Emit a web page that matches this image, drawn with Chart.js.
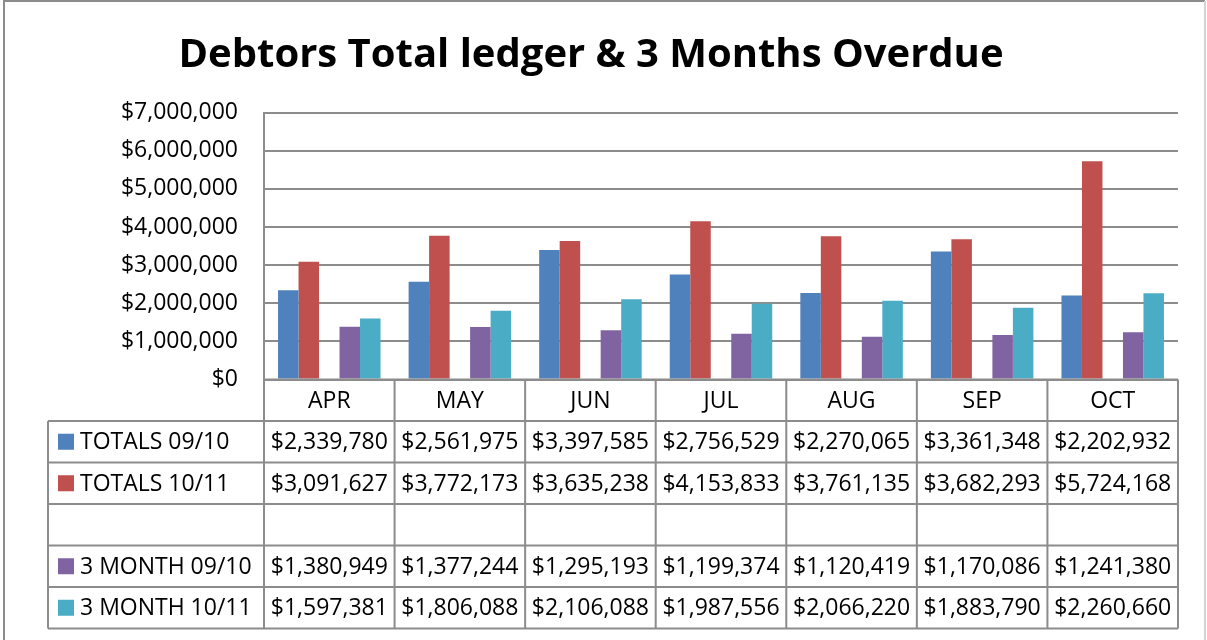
<!DOCTYPE html>
<html>
<head>
<meta charset="utf-8">
<title>Debtors Total ledger &amp; 3 Months Overdue</title>
<script src="https://cdn.jsdelivr.net/npm/chart.js@4/dist/chart.umd.min.js"></script>
<style>
  html, body { margin: 0; padding: 0; background: #fff; }
  #wrap { position: relative; width: 1207px; height: 640px; }
</style>
</head>
<body>
<div id="wrap"><canvas id="debtorsChart" width="1207" height="640"></canvas></div>
<script>
'use strict';

const months = ['APR', 'MAY', 'JUN', 'JUL', 'AUG', 'SEP', 'OCT'];
const totals0910 = [2339780, 2561975, 3397585, 2756529, 2270065, 3361348, 2202932];
const totals1011 = [3091627, 3772173, 3635238, 4153833, 3761135, 3682293, 5724168];
const blankRow = [null, null, null, null, null, null, null];
const month0910 = [1380949, 1377244, 1295193, 1199374, 1120419, 1170086, 1241380];
const month1011 = [1597381, 1806088, 2106088, 1987556, 2066220, 1883790, 2260660];
const yTicks = [0, 1000000, 2000000, 3000000, 4000000, 5000000, 6000000, 7000000];

const seriesLabels = ['TOTALS 09/10', 'TOTALS 10/11', '', '3 MONTH 09/10', '3 MONTH 10/11'];
const seriesColors = ['#4F81BD', '#C0504D', '#ffffff', '#8064A2', '#4BACC6'];
const seriesData = [totals0910, totals1011, blankRow, month0910, month1011];

const FONT = '"Open Sans", "Noto Sans", sans-serif';
const LINE = '#8c8c8c';

function money(v) {
  return '$' + Number(v).toLocaleString('en-US');
}

// frame round the whole chart
const framePlugin = {
  id: 'frame',
  beforeDraw(chart) {
    const ctx = chart.ctx;
    ctx.save();
    ctx.fillStyle = '#fff';
    ctx.fillRect(0, 0, chart.width, chart.height);
    ctx.lineWidth = 2;
    ctx.strokeStyle = LINE;
    ctx.beginPath();
    ctx.moveTo(4, 700);
    ctx.lineTo(4, 1);
    ctx.lineTo(1205, 1);
    ctx.stroke();
    ctx.strokeStyle = '#d4d4d4';
    ctx.beginPath();
    ctx.moveTo(1205, 1);
    ctx.lineTo(1205, 700);
    ctx.stroke();
    ctx.restore();
  }
};

// Excel style data table under the plot
const dataTablePlugin = {
  id: 'dataTable',
  afterDraw(chart) {
    const ctx = chart.ctx;
    const x = chart.scales.x;
    const area = chart.chartArea;
    const n = months.length;
    const colW = (area.right - area.left) / n;
    const keyLeft = 48;
    const headTop = area.bottom;
    const headBottom = 421;
    const rowH = 41.5;
    const tableBottom = headBottom + rowH * seriesLabels.length;

    ctx.save();
    ctx.strokeStyle = LINE;
    ctx.lineWidth = 2;
    ctx.beginPath();
    ctx.moveTo(area.left, headTop);
    ctx.lineTo(area.right, headTop);
    for (let r = 0; r <= seriesLabels.length; r++) {
      const y = headBottom + r * rowH;
      ctx.moveTo(keyLeft, y);
      ctx.lineTo(area.right, y);
    }
    ctx.moveTo(keyLeft, headBottom);
    ctx.lineTo(keyLeft, tableBottom);
    for (let i = 0; i <= n; i++) {
      const cx = area.left + i * colW;
      ctx.moveTo(cx, headTop);
      ctx.lineTo(cx, tableBottom);
    }
    ctx.stroke();

    ctx.fillStyle = '#000';
    ctx.font = '23px ' + FONT;
    ctx.textBaseline = 'middle';
    ctx.textAlign = 'center';
    months.forEach((m, i) => {
      ctx.fillText(m, x.getPixelForValue(i), (headTop + headBottom) / 2 + 1);
    });

    seriesLabels.forEach((label, r) => {
      const yMid = headBottom + r * rowH + rowH / 2 + 1;
      if (label) {
        ctx.fillStyle = seriesColors[r];
        ctx.fillRect(58, yMid - 9, 16, 16);
        ctx.fillStyle = '#000';
        ctx.textAlign = 'left';
        ctx.fillText(label, 80, yMid);
      }
      ctx.textAlign = 'center';
      seriesData[r].forEach((v, i) => {
        if (v === null) return;
        ctx.fillText(money(v), x.getPixelForValue(i), yMid);
      });
    });
    ctx.restore();
  }
};

document.addEventListener('DOMContentLoaded', () => {
  const ctx = document.getElementById('debtorsChart').getContext('2d');
  new Chart(ctx, {
    type: 'bar',
    data: {
      labels: months,
      datasets: seriesLabels.map((label, i) => ({
        label: label,
        data: seriesData[i],
        backgroundColor: seriesColors[i],
        categoryPercentage: 0.785,
        barPercentage: 1.0,
      })),
    },
    options: {
      responsive: false,
      animation: false,
      layout: { padding: { left: 4, right: 29, top: 0, bottom: 260.5 } },
      plugins: {
        legend: { display: false },
        tooltip: { enabled: false },
        title: {
          display: true,
          text: 'Debtors Total ledger & 3 Months Overdue',
          color: '#000',
          font: { family: FONT, size: 40, weight: 'bold' },
          padding: { top: 32, bottom: 32.7 },
        },
      },
      scales: {
        x: { display: false },
        y: {
          min: 0,
          max: 7000000,
          afterFit: s => { s.width = 260; },
          afterBuildTicks: s => { s.ticks = yTicks.map(v => ({ value: v })); },
          ticks: {
            color: '#000',
            padding: 26,
            font: { family: FONT, size: 23 },
            callback: v => money(v),
          },
          grid: { color: LINE, lineWidth: 2, drawTicks: false },
          border: { display: true, color: LINE, width: 2 },
        },
      },
    },
    plugins: [framePlugin, dataTablePlugin],
  });
});
</script>
</body>
</html>
